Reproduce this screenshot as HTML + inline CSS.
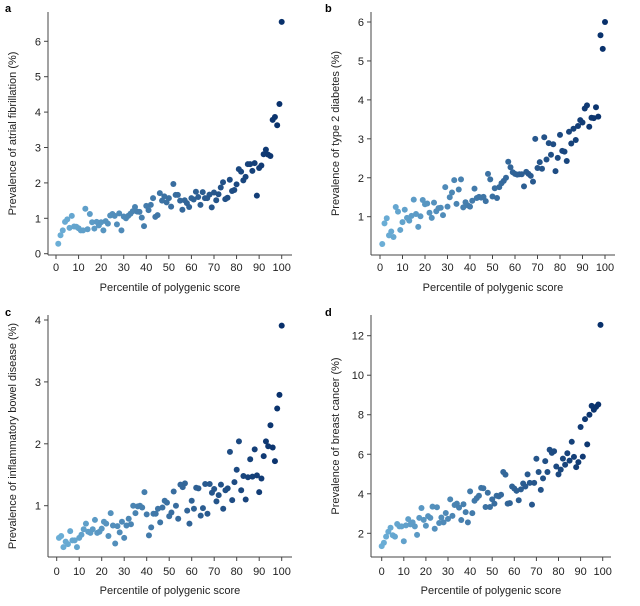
<!DOCTYPE html>
<html><head><meta charset="utf-8"><style>
html,body{margin:0;padding:0;background:#fff;}
svg{display:block;font-family:"Liberation Sans",Arial,sans-serif;}
</style></head><body>
<svg id="chart" width="640" height="606" viewBox="0 0 640 606" xmlns="http://www.w3.org/2000/svg"></svg>
<script>
const afValues=[0.28,0.52,0.66,0.9,0.97,0.73,1.07,0.77,0.76,0.72,0.66,0.66,1.27,0.69,1.12,0.89,0.71,0.9,0.8,0.89,0.66,0.92,0.85,1.08,1.12,1.07,0.83,1.14,0.66,1.05,1.0,1.07,1.13,1.2,1.32,1.19,1.18,1.02,0.78,1.35,1.23,1.38,1.57,1.04,1.09,1.71,1.5,1.62,1.45,1.57,1.33,1.97,1.66,1.66,1.5,1.24,1.51,1.43,1.32,1.57,1.53,1.75,1.6,1.38,1.74,1.57,1.57,1.67,1.31,1.73,1.51,1.68,1.87,2.02,1.54,1.58,2.09,1.77,1.8,1.96,2.39,2.32,2.07,2.17,2.53,2.53,2.34,2.56,1.64,2.42,2.49,2.81,2.94,2.8,2.76,3.78,3.86,3.63,4.23,6.55];
const t2dValues=[0.3,0.83,0.96,0.52,0.62,0.48,1.25,1.13,0.66,0.86,1.18,0.97,0.9,1.02,1.44,1.07,0.74,1.01,1.43,1.32,1.34,1.1,0.97,1.36,1.14,1.22,1.23,1.04,1.76,1.26,1.5,1.62,1.94,1.33,1.7,1.96,1.24,1.37,1.29,1.26,1.41,1.72,1.48,1.51,1.49,1.51,1.4,2.1,1.96,1.52,1.73,1.48,1.76,1.86,1.92,2.0,2.41,2.27,2.14,2.1,2.08,2.09,2.09,1.78,2.15,2.1,2.05,1.9,3.0,2.25,2.4,2.23,3.04,2.47,2.89,2.59,2.86,2.17,2.51,3.1,2.69,2.67,2.43,3.18,2.88,3.26,2.97,3.33,3.48,3.42,3.78,3.86,3.31,3.54,3.53,3.81,3.57,5.66,5.31,6.0];
const ibdValues=[0.48,0.51,0.33,0.42,0.38,0.59,0.44,0.44,0.33,0.48,0.53,0.62,0.71,0.58,0.56,0.62,0.77,0.56,0.58,0.63,0.74,0.71,0.51,0.88,0.68,0.39,0.67,0.57,0.74,0.48,0.68,0.79,0.7,1.0,0.88,0.99,1.0,0.97,1.22,0.86,0.52,0.65,0.87,0.87,0.95,0.73,0.97,1.08,1.05,0.83,0.89,1.23,1.0,0.79,1.34,1.3,1.36,0.92,0.71,1.08,0.95,1.29,1.28,0.84,0.96,1.35,0.87,1.35,1.21,1.27,1.07,1.17,1.34,0.95,1.25,1.28,1.87,1.09,1.38,1.58,2.04,1.25,1.48,1.1,1.46,1.75,1.47,1.91,1.49,1.22,1.44,1.8,2.04,1.96,2.3,1.94,1.72,2.57,2.79,3.91];
const bcValues=[1.35,1.52,1.83,2.08,2.28,1.9,1.83,2.47,2.35,2.35,1.6,2.4,2.72,2.45,2.55,2.35,1.92,2.78,3.28,2.68,2.38,2.87,2.78,3.35,2.23,3.32,2.52,2.8,2.55,3.03,2.73,3.72,2.88,3.43,3.5,3.3,2.67,3.47,3.07,2.55,4.12,3.02,3.65,3.78,3.9,4.3,4.28,3.33,4.05,3.33,3.72,3.5,3.9,3.87,3.95,5.1,4.97,3.5,3.53,4.37,4.27,4.15,3.67,4.22,4.52,4.37,4.98,4.55,3.45,4.55,5.77,5.1,4.2,4.78,5.65,5.1,6.23,6.07,6.15,5.38,4.98,5.22,5.78,5.47,6.05,5.68,6.63,5.87,5.35,5.6,7.38,5.88,7.78,6.5,8.0,8.45,8.25,8.4,8.52,12.55];
const xTickLabels=[0,10,20,30,40,50,60,70,80,90,100];
const afTicks=[0,1,2,3,4,5,6];
const t2dTicks=[1,2,3,4,5,6];
const ibdTicks=[1,2,3,4];
const bcTicks=[2,4,6,8,10,12];

const NS="http://www.w3.org/2000/svg";
const svg=document.getElementById('chart');
function mk(tag,attrs,parent){const e=document.createElementNS(NS,tag);for(const k in attrs)e.setAttribute(k,attrs[k]);(parent||svg).appendChild(e);return e;}
function lerp(a,b,t){return Math.round(a+(b-a)*t);}
function color(t){const c0=[107,174,214],c1=[8,48,107];return `rgb(${lerp(c0[0],c1[0],t)},${lerp(c0[1],c1[1],t)},${lerp(c0[2],c1[2],t)})`;}

const panels=[
 {id:'a',vals:afValues,ticks:afTicks,x0:1,title:'Prevalence of atrial fibrillation (%)',
  axX:48,axTop:12,axBot:255,axRight:292,px0:56,px100:281.7,vA:0,pA:253.7,vB:6,pB:41.3,titleX:16,lblY:271,xtY:291,letterX:5,letterY:12},
 {id:'b',vals:t2dValues,ticks:t2dTicks,x0:1,title:'Prevalence of type 2 diabetes (%)',
  axX:371,axTop:12,axBot:255,axRight:615,px0:380,px100:605,vA:1,pA:216.7,vB:6,pB:22,titleX:339,lblY:271,xtY:291,letterX:325,letterY:12},
 {id:'c',vals:ibdValues,ticks:ibdTicks,x0:1,title:'Prevalence of inflammatory bowel disease (%)',
  axX:48,axTop:315,axBot:557,axRight:292,px0:56.7,px100:281.7,vA:1,pA:505.7,vB:4,pB:320,titleX:16,lblY:575,xtY:594,letterX:5,letterY:316},
 {id:'d',vals:bcValues,ticks:bcTicks,x0:0,title:'Prevalence of breast cancer (%)',
  axX:371,axTop:315,axBot:557,axRight:611,px0:381.7,px100:602.7,vA:2,pA:533.3,vB:12,pB:335.7,titleX:339,lblY:575,xtY:594,letterX:325,letterY:316}
];

panels.forEach(p=>{
  const g=mk('g',{});
  
  
  const xs=v=>p.px0+(p.px100-p.px0)*v/100;
  const ys=v=>p.pA+(p.pB-p.pA)*(v-p.vA)/(p.vB-p.vA);
  const L=mk('text',{x:p.letterX,y:p.letterY,'font-size':11,'font-weight':'bold',fill:'#000'},g);L.textContent=p.id;
  
  
  const ya=mk('line',{x1:p.axX,y1:p.axTop,x2:p.axX,y2:p.axBot,stroke:'#444','stroke-width':1},g);
  
  
  const xa=mk('line',{x1:p.axX,y1:p.axBot,x2:p.axRight,y2:p.axBot,stroke:'#444','stroke-width':1},g);
  
  
  p.ticks.forEach(t=>{
    const y=ys(t);
    mk('line',{x1:p.axX-4,y1:y,x2:p.axX,y2:y,stroke:'#444','stroke-width':1},g);
    const tx=mk('text',{x:p.axX-7,y:y+4,'font-size':11,'text-anchor':'end',fill:'#222'},g);tx.textContent=t;
    
    
  });
  xTickLabels.forEach(t=>{
    const x=xs(t);
    mk('line',{x1:x,y1:p.axBot,x2:x,y2:p.axBot+4,stroke:'#444','stroke-width':1},g);
    const tx=mk('text',{x:x,y:p.lblY,'font-size':11,'text-anchor':'middle',fill:'#222'},g);tx.textContent=t;
    
    
  });
  const xt=mk('text',{x:(p.axX+p.axRight)/2,y:p.xtY,'font-size':11,'text-anchor':'middle',fill:'#222'},g);
  xt.textContent='Percentile of polygenic score';
  
  
  const cy=(p.axTop+p.axBot)/2;
  const yt=mk('text',{x:p.titleX,y:cy,'font-size':11,'text-anchor':'middle',fill:'#222',transform:`rotate(-90 ${p.titleX} ${cy})`},g);
  yt.textContent=p.title;
  
  
  const n=p.vals.length;
  p.vals.forEach((v,i)=>{
    const c=mk('circle',{cx:xs(p.x0+i),cy:ys(v),r:3,fill:color(i/(n-1))},g);
    
    
  });
});
</script>
</body></html>
